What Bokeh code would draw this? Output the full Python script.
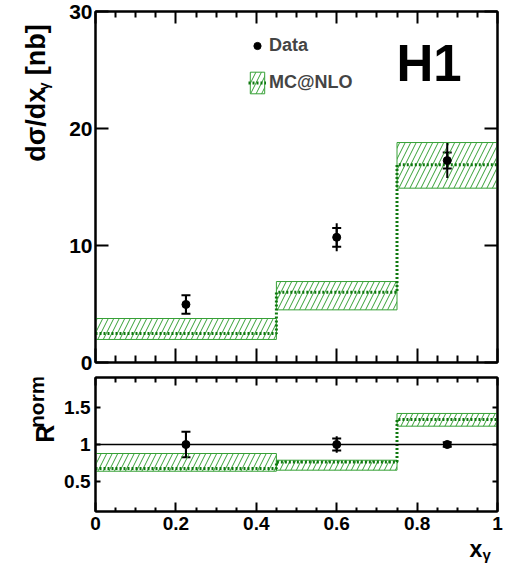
from math import pi
from bokeh.plotting import figure
from bokeh.layouts import column, row
from bokeh.models import (Range1d, FixedTicker, LinearAxis, Label, Legend, LegendItem,
                          Whisker, ColumnDataSource, Span, TeeHead)
from bokeh.embed import file_html
from bokeh.resources import INLINE

# ---------------- data ----------------
bin_edges = [0.0, 0.45, 0.75, 1.0]
x_data = [0.225, 0.6, 0.875]
xsec_data = [4.96, 10.7, 17.26]
xsec_stat = [0.79, 0.8, 0.68]
xsec_tot = [0.79, 1.2, 1.5]
xsec_mc = [2.48, 6.0, 16.9]
xsec_mc_up = [3.76, 6.92, 18.8]
xsec_mc_lo = [1.97, 4.5, 14.9]

ratio_data = [1.0, 1.0, 1.0]
ratio_stat = [0.17, 0.08, 0.03]
ratio_tot = [0.17, 0.11, 0.05]
ratio_mc = [0.677, 0.766, 1.336]
ratio_mc_up = [0.879, 0.789, 1.417]
ratio_mc_lo = [0.641, 0.655, 1.246]

x_ticks = [0, 0.2, 0.4, 0.6, 0.8, 1]
x_tick_labels = ["0", "0.2", "0.4", "0.6", "0.8", "1"]
x_minor_ticks = [0.05, 0.1, 0.15, 0.25, 0.3, 0.35, 0.45, 0.5, 0.55, 0.65, 0.7, 0.75, 0.85, 0.9, 0.95]
y_top_ticks = [0, 10, 20, 30]
y_top_labels = ["0", "10", "20", "30"]
y_bot_ticks = [0.5, 1, 1.5]
y_bot_labels = ["0.5", "1", "1.5"]

HATCH = "#36a036"
MCLINE = "#0f780f"
FONT = "Liberation Sans"

TW = 60          # width of title strip
PW = 446         # width of plot figures
H1_H = 374       # top figure height (frame 11..362)
H2_H = 162       # bottom figure height (frame 377..511)
XF_H = 27        # x-title strip height


def step_xy(edges, vals):
    xs, ys = [], []
    for i, v in enumerate(vals):
        xs += [edges[i], edges[i + 1]]
        ys += [v, v]
    return xs, ys


def style_axis(ax, ticks, minor, major_in, minor_in, labels=None, size="21px", standoff=3):
    ax.ticker = FixedTicker(ticks=ticks, minor_ticks=minor)
    ax.major_tick_in = major_in
    ax.major_tick_out = 0
    ax.minor_tick_in = minor_in
    ax.minor_tick_out = 0
    ax.axis_line_width = 2
    ax.major_tick_line_width = 2
    ax.minor_tick_line_width = 2
    ax.axis_label = None
    if labels is not None:
        ax.major_label_overrides = {t: l for t, l in zip(ticks, labels)}
        ax.major_label_text_font = FONT
        ax.major_label_text_font_style = "bold"
        ax.major_label_text_font_size = size
        ax.major_label_text_color = "black"
        ax.major_label_standoff = standoff
    else:
        ax.major_label_overrides = {t: "" for t in ticks}
        ax.major_label_text_font_size = "1px"
        ax.major_label_standoff = 0


def make_fig(height, yr, top, bottom):
    p = figure(width=PW, height=height, x_range=Range1d(0, 1), y_range=Range1d(*yr),
               toolbar_location=None, output_backend="svg",
               min_border_left=35, min_border_right=9,
               min_border_top=top, min_border_bottom=bottom)
    p.grid.visible = False
    p.outline_line_color = "black"
    p.outline_line_width = 2
    p.background_fill_color = "white"
    p.border_fill_color = "white"
    return p


def text_panel(w, h):
    p = figure(width=w, height=h, x_range=Range1d(0, w), y_range=Range1d(h, 0),
               toolbar_location=None, output_backend="svg",
               x_axis_type=None, y_axis_type=None,
               min_border_left=0, min_border_right=0, min_border_top=0, min_border_bottom=0)
    p.grid.visible = False
    p.outline_line_color = None
    p.background_fill_color = "white"
    p.border_fill_color = "white"
    return p


MID = 0.35  # distance from baseline to the "middle" anchor, in em


def lab(p, text, x, y, size, angle=0.0):
    """Place text so that its baseline passes through (x, y) in panel pixels.
    For rotated (vertical) text x is the baseline; y the start of the text."""
    fs = float(size.replace("px", ""))
    if angle:
        ax, ay = x - MID * fs, y
    else:
        ax, ay = x, y - MID * fs
    p.add_layout(Label(x=ax, y=ay, text=text, angle=angle, text_font=FONT, text_font_style="bold",
                       text_font_size=size, text_color="black", text_align="left",
                       text_baseline="middle"))


def X(px):
    return (px - 95) / 402.0


def Yt(py):
    return (362 - py) / 11.7


# ---------------- top panel ----------------
p1 = make_fig(H1_H, (0, 30), 11, 12)
style_axis(p1.xaxis[0], x_ticks, x_minor_ticks, 14, 7)
style_axis(p1.yaxis[0], y_top_ticks, [], 13, 0, y_top_labels, "21px", 3)
ax_t = LinearAxis()
style_axis(ax_t, x_ticks, x_minor_ticks, 12, 6)
p1.add_layout(ax_t, "above")
ax_r = LinearAxis()
style_axis(ax_r, y_top_ticks, [], 13, 0)
p1.add_layout(ax_r, "right")

band1 = p1.quad(left=bin_edges[:-1], right=bin_edges[1:], bottom=xsec_mc_lo, top=xsec_mc_up,
                fill_alpha=0, hatch_pattern="/", hatch_color=HATCH, hatch_scale=11,
                hatch_weight=1, line_color=HATCH, line_width=1)
sx, sy = step_xy(bin_edges, xsec_mc)
mcl1 = p1.line(sx, sy, line_color=MCLINE, line_width=3, line_dash="2 2")

src1 = ColumnDataSource(dict(
    x=x_data, y=xsec_data,
    slo=[v - e for v, e in zip(xsec_data, xsec_stat)], shi=[v + e for v, e in zip(xsec_data, xsec_stat)],
    tlo=[v - e for v, e in zip(xsec_data, xsec_tot)], thi=[v + e for v, e in zip(xsec_data, xsec_tot)]))
p1.segment(x0="x", y0="tlo", x1="x", y1="thi", source=src1, line_color="black", line_width=2)
p1.add_layout(Whisker(base="x", lower="slo", upper="shi", source=src1, dimension="height",
                      line_color="black", line_width=2,
                      upper_head=TeeHead(size=9, line_width=2, line_color="black"),
                      lower_head=TeeHead(size=9, line_width=2, line_color="black")))
dots1 = p1.scatter("x", "y", source=src1, size=8, marker="circle", color="black")

legend = Legend(items=[LegendItem(label="Data", renderers=[dots1]),
                       LegendItem(label="MC@NLO", renderers=[band1, mcl1])],
                location=(153, 266), glyph_width=18, glyph_height=27, spacing=10,
                padding=0, margin=0, label_standoff=3, border_line_color=None,
                background_fill_alpha=0, label_text_font=FONT, label_text_font_style="bold",
                label_text_font_size="18px", label_height=27)
p1.add_layout(legend, "center")

h1_fs = 51
p1.add_layout(Label(x=X(396), y=Yt(81 - MID * h1_fs), text="H1", text_font=FONT,
                    text_font_style="bold", text_font_size=f"{h1_fs}px", text_color="black",
                    text_align="left", text_baseline="middle"))

t1 = text_panel(TW, H1_H)
lab(t1, "dσ/dx", 45, 160, "27px", pi / 2)
lab(t1, "γ", 48, 84, "14px", pi / 2)
lab(t1, "[nb]", 45, 68, "27px", pi / 2)

# ---------------- bottom panel ----------------
p2 = make_fig(H2_H, (0.1, 1.9), 3, 25)
style_axis(p2.xaxis[0], x_ticks, x_minor_ticks, 9, 4, x_tick_labels, "19px", 5)
style_axis(p2.yaxis[0], y_bot_ticks, [], 5, 0, y_bot_labels, "19px", 5)
ax_t2 = LinearAxis()
style_axis(ax_t2, x_ticks, x_minor_ticks, 8, 5)
p2.add_layout(ax_t2, "above")
ax_r2 = LinearAxis()
style_axis(ax_r2, y_bot_ticks, [], 5, 0)
p2.add_layout(ax_r2, "right")

p2.add_layout(Span(location=1, dimension="width", line_color="black", line_width=1.5))
p2.quad(left=bin_edges[:-1], right=bin_edges[1:], bottom=ratio_mc_lo, top=ratio_mc_up,
        fill_alpha=0, hatch_pattern="/", hatch_color=HATCH, hatch_scale=11,
        hatch_weight=1, line_color=HATCH, line_width=1)
sx2, sy2 = step_xy(bin_edges, ratio_mc)
p2.line(sx2, sy2, line_color=MCLINE, line_width=3, line_dash="2 2")

src2 = ColumnDataSource(dict(
    x=x_data, y=ratio_data,
    slo=[v - e for v, e in zip(ratio_data, ratio_stat)], shi=[v + e for v, e in zip(ratio_data, ratio_stat)],
    tlo=[v - e for v, e in zip(ratio_data, ratio_tot)], thi=[v + e for v, e in zip(ratio_data, ratio_tot)]))
p2.segment(x0="x", y0="tlo", x1="x", y1="thi", source=src2, line_color="black", line_width=2)
p2.add_layout(Whisker(base="x", lower="slo", upper="shi", source=src2, dimension="height",
                      line_color="black", line_width=2,
                      upper_head=TeeHead(size=9, line_width=2, line_color="black"),
                      lower_head=TeeHead(size=9, line_width=2, line_color="black")))
p2.scatter("x", "y", source=src2, size=8, marker="circle", color="black")

t2 = text_panel(TW, H2_H)
lab(t2, "R", 53, 453 - H1_H, "25px", pi / 2)
lab(t2, "norm", 43.5, 435 - H1_H, "21px", pi / 2)

# ---------------- x title strip ----------------
xf = text_panel(TW + PW, XF_H)
y0 = H1_H + H2_H
lab(xf, "x", 469, 557 - y0, "23px")
lab(xf, "γ", 482, 559 - y0, "15px")

layout = column(row(t1, p1, spacing=0), row(t2, p2, spacing=0), xf, spacing=0)
open("out.html", "w").write(file_html(layout, INLINE))
